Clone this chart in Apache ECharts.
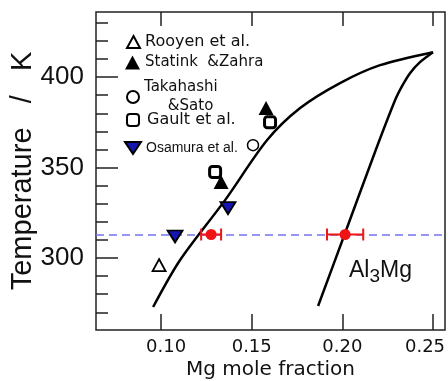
<!DOCTYPE html>
<html><head><meta charset="utf-8">
<script src="https://cdn.jsdelivr.net/npm/echarts@6/dist/echarts.min.js"></script>
<style>html,body{margin:0;padding:0;background:#fff}#c{width:448px;height:381px}</style>
</head><body><div id="c"></div>
<script>
// ---- data ----
const xTicks = [0.10, 0.15, 0.20, 0.25];
const yMajorTicks = [300, 350, 400];
const yMinorTicks = [270, 280, 290, 310, 320, 330, 340, 360, 370, 380, 390, 410, 420, 430];
const rooyen = [[0.0989, 296.1]];
const statink = [[0.1331, 342.0], [0.1579, 382.9]];
const takahashi = [[0.1507, 362.4]];
const gault = [[0.1298, 347.5], [0.1601, 375.1]];
const osamura = [[0.1077, 311.9], [0.1369, 327.6]];
const measured = [[0.1276, 313.0], [0.2015, 313.0]];
const measuredErr = [0.0055, 0.0100];
const refTemperature = 313;
const leftBoundary = [[0.0956, 272.9], [0.1105, 298.9], [0.1353, 332.0], [0.1585, 365.2], [0.1767, 382.9], [0.1987, 396.7], [0.2208, 406.6], [0.2500, 413.8]];
const rightBoundary = [[0.1866, 273.5], [0.2015, 313.8], [0.2180, 358.6], [0.2291, 387.3], [0.2329, 395.0], [0.2373, 402.2], [0.2428, 408.3], [0.2500, 413.8]];

const xMin = 0.0641, xMax = 0.2566, yMin = 260.2, yMax = 436;
const DJ = 'DejaVu Sans', LS = 'Liberation Sans';
const ink = '#111';

function lg(name, left, top, w, h, textStyle, extra) {
  return Object.assign({
    data: [name], left: left, top: top, padding: 0, orient: 'vertical',
    itemWidth: w, itemHeight: h, selectedMode: false,
    textStyle: Object.assign({ color: ink }, textStyle)
  }, extra || {});
}

const chart = echarts.init(document.getElementById('c'), null, { renderer: 'canvas' });
chart.setOption({
  animation: false,
  backgroundColor: '#fff',
  grid: { left: 96, right: 3, top: 12, bottom: 51, show: true, borderColor: '#222', borderWidth: 1.5, backgroundColor: 'transparent', containLabel: false, outerBoundsMode: 'none' },
  xAxis: [
    {
      type: 'value', min: xMin, max: xMax, position: 'bottom',
      axisLine: { show: false }, splitLine: { show: false },
      axisTick: { show: true, inside: true, length: 16, customValues: xTicks, lineStyle: { color: '#222', width: 1.5 } },
      axisLabel: {
        customValues: xTicks, fontSize: 18, fontFamily: DJ, color: ink, margin: 8,
        formatter: function (v) {
          const s = v.toFixed(2);
          if (Math.abs(v - xTicks[0]) < 1e-9) return '{f|' + s + '}';
          if (Math.abs(v - xTicks[xTicks.length - 1]) < 1e-9) return '{l|' + s + '}';
          return s;
        },
        rich: {
          f: { fontSize: 18, fontFamily: DJ, color: ink, padding: [0, 0, 0, 10] },
          l: { fontSize: 18, fontFamily: DJ, color: ink, padding: [0, 16, 0, 0] }
        }
      },
      name: 'Mg mole fraction', nameLocation: 'middle', nameGap: 30, nameMoveOverlap: false,
      nameTextStyle: { fontSize: 20, fontFamily: DJ, color: ink }
    },
    {
      type: 'value', min: xMin, max: xMax, position: 'top',
      axisLine: { show: false }, splitLine: { show: false },
      axisTick: { show: true, inside: true, length: 14, customValues: xTicks, lineStyle: { color: '#222', width: 1.5 } },
      axisLabel: { show: false }
    }
  ],
  yAxis: [
    {
      type: 'value', min: yMin, max: yMax, position: 'left',
      axisLine: { show: false }, splitLine: { show: false },
      axisTick: { show: true, inside: true, length: 22, customValues: yMajorTicks, lineStyle: { color: '#222', width: 1.5 } },
      axisLabel: { customValues: yMajorTicks, fontSize: 26, fontFamily: LS, color: ink, margin: 12 },
      name: 'Temperature   /   K', nameLocation: 'middle', nameGap: 59, nameMoveOverlap: false,
      nameTextStyle: { fontSize: 29, fontFamily: LS, color: ink }
    },
    {
      type: 'value', min: yMin, max: yMax, position: 'left',
      axisLine: { show: false }, splitLine: { show: false },
      axisTick: { show: true, inside: true, length: 12, customValues: yMinorTicks, lineStyle: { color: '#222', width: 1.5 } },
      axisLabel: { show: false }
    }
  ],
  legend: [
    lg('Rooyen et al.', 126, 34, 13, 12, { fontSize: 16, fontFamily: DJ }),
    lg('Statink  &Zahra', 125, 55, 15, 14, { fontSize: 15, fontFamily: DJ }),
    lg('Takahashi\n     &Sato', 126, 78, 12, 12, { fontSize: 15, fontFamily: DJ, lineHeight: 19 }),
    lg('Gault et al.', 126, 112, 12, 12, { fontSize: 16, fontFamily: DJ, padding: [0, 0, 0, 3] }),
    lg('Osamura et al.', 124, 141, 16, 12, { fontSize: 14, fontFamily: LS }, { data: [{ name: 'Osamura et al.', icon: 'path://M0,0 L16,0 L8,12 Z' }] })
  ],
  graphic: [{
    type: 'text', left: 349, top: 259, z: 100,
    style: {
      text: '{a|Al}{s|3}{a|Mg}',
      rich: {
        a: { fontSize: 23, fontFamily: LS, fill: ink, verticalAlign: 'top' },
        s: { fontSize: 19, fontFamily: LS, fill: ink, verticalAlign: 'top', padding: [8, 0, 0, 0] }
      }
    }
  }],
  series: [
    { type: 'line', name: 'leftBoundary', data: leftBoundary, smooth: 0.3, symbol: 'none', lineStyle: { color: '#000', width: 2.5 }, z: 2 },
    { type: 'line', name: 'rightBoundary', data: rightBoundary, smooth: 0.3, symbol: 'none', lineStyle: { color: '#000', width: 2.5 }, z: 2 },
    { type: 'scatter', name: 'Rooyen et al.', data: rooyen, symbol: 'triangle', symbolSize: [13, 12], itemStyle: { color: '#fff', borderColor: '#000', borderWidth: 1.8, opacity: 1 }, z: 5 },
    { type: 'scatter', name: 'Statink  &Zahra', data: statink, symbol: 'triangle', symbolSize: [15, 14], itemStyle: { color: '#000', borderColor: '#000', borderWidth: 0, opacity: 1 }, z: 5 },
    { type: 'scatter', name: 'Takahashi\n     &Sato', data: takahashi, symbol: 'circle', symbolSize: 11, itemStyle: { color: '#fff', borderColor: '#000', borderWidth: 1.5, opacity: 1 }, z: 5 },
    { type: 'scatter', name: 'Gault et al.', data: gault, symbol: 'roundRect', symbolSize: 11, itemStyle: { color: '#fff', borderColor: '#000', borderWidth: 3, opacity: 1 }, z: 4 },
    { type: 'scatter', name: 'Osamura et al.', data: osamura, symbol: 'triangle', symbolRotate: 180, symbolSize: [15, 12], itemStyle: { color: '#1414b4', borderColor: '#000', borderWidth: 1.8, opacity: 1 }, z: 5 },
    {
      type: 'custom', name: 'err', z: 6,
      data: measured.map((d, i) => [d[0], d[1], measuredErr[i]]),
      encode: { x: 0, y: 1 },
      renderItem: function (params, api) {
        const x = api.value(0), y = api.value(1), e = api.value(2);
        const p1 = api.coord([x - e, y]), p2 = api.coord([x + e, y]);
        const h = 6;
        const st = { stroke: '#f01414', lineWidth: 2 };
        return {
          type: 'group', children: [
            { type: 'line', shape: { x1: p1[0], y1: p1[1], x2: p2[0], y2: p2[1] }, style: st },
            { type: 'line', shape: { x1: p1[0], y1: p1[1] - h, x2: p1[0], y2: p1[1] + h }, style: st },
            { type: 'line', shape: { x1: p2[0], y1: p2[1] - h, x2: p2[0], y2: p2[1] + h }, style: st }
          ]
        };
      }
    },
    {
      type: 'scatter', name: 'measured', data: measured, symbol: 'circle', symbolSize: 11,
      itemStyle: { color: '#f01414', opacity: 1 }, z: 7,
      markLine: {
        silent: true, symbol: 'none', label: { show: false },
        lineStyle: { color: '#7474ee', type: [8, 5], width: 1.5 },
        data: [{ yAxis: refTemperature }]
      }
    }
  ]
});
</script></body></html>
